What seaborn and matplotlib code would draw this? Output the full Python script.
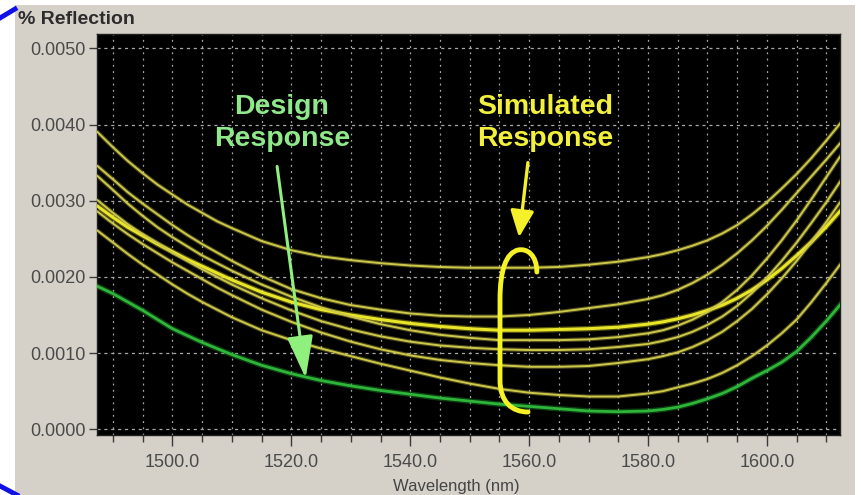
import numpy as np
import pandas as pd
import seaborn as sns
import matplotlib
matplotlib.use("Agg")
import matplotlib.pyplot as plt
from matplotlib.patches import FancyArrowPatch, PathPatch, Rectangle
from matplotlib.path import Path
from matplotlib.lines import Line2D

# ---- data -------------------------------------------------------------
wavelength = [1487, 1490, 1492.5, 1495, 1497.5, 1500, 1502.5, 1505, 1507.5, 1510,
              1515, 1520, 1525, 1530, 1535, 1540, 1545, 1550, 1555, 1560,
              1565, 1570, 1575, 1580, 1582.5, 1585, 1587.5, 1590, 1592.5, 1595,
              1597.5, 1600, 1602.5, 1605, 1607.5, 1610, 1612.5]

design = [0.00189, 0.00178, 0.00167, 0.00156, 0.00144, 0.00132, 0.00123, 0.00114, 0.00106, 0.00098,
          0.00084, 0.00073, 0.00064, 0.00057, 0.00051, 0.00046, 0.00041, 0.00037, 0.00033, 0.00030,
          0.00027, 0.00024, 0.00023, 0.00024, 0.00026, 0.00029, 0.00034, 0.00040, 0.00047, 0.00056,
          0.00067, 0.00077, 0.00088, 0.00102, 0.00121, 0.00142, 0.00165]

sim_a = [0.00393, 0.00370, 0.00352, 0.00336, 0.00321, 0.00308, 0.00295, 0.00284, 0.00273, 0.00264,
         0.00247, 0.00235, 0.00227, 0.00222, 0.00218, 0.00215, 0.00213, 0.00212, 0.00212, 0.00212,
         0.00213, 0.00216, 0.00220, 0.00226, 0.00230, 0.00235, 0.00241, 0.00248, 0.00257, 0.00268,
         0.00282, 0.00298, 0.00316, 0.00335, 0.00356, 0.00379, 0.00403]
sim_b = [0.00348, 0.00328, 0.00311, 0.00296, 0.00282, 0.00268, 0.00255, 0.00243, 0.00232, 0.00221,
         0.00201, 0.00184, 0.00172, 0.00163, 0.00157, 0.00152, 0.00149, 0.00148, 0.00148, 0.00150,
         0.00154, 0.00159, 0.00164, 0.00171, 0.00176, 0.00183, 0.00192, 0.00203, 0.00216, 0.00231,
         0.00248, 0.00267, 0.00288, 0.00310, 0.00332, 0.00354, 0.00377]
sim_c = [0.00295, 0.00278, 0.00265, 0.00254, 0.00243, 0.00233, 0.00223, 0.00214, 0.00205, 0.00196,
         0.00180, 0.00167, 0.00157, 0.00150, 0.00144, 0.00139, 0.00135, 0.00132, 0.00130, 0.00130,
         0.00131, 0.00132, 0.00134, 0.00138, 0.00141, 0.00145, 0.00150, 0.00156, 0.00163, 0.00172,
         0.00183, 0.00196, 0.00211, 0.00228, 0.00246, 0.00266, 0.00288]
sim_d = [0.00335, 0.00314, 0.00296, 0.00280, 0.00265, 0.00252, 0.00240, 0.00228, 0.00218, 0.00208,
         0.00190, 0.00174, 0.00160, 0.00148, 0.00138, 0.00130, 0.00124, 0.00120, 0.00117, 0.00117,
         0.00117, 0.00118, 0.00121, 0.00126, 0.00130, 0.00136, 0.00144, 0.00154, 0.00167, 0.00183,
         0.00202, 0.00224, 0.00248, 0.00274, 0.00302, 0.00331, 0.00360]
sim_e = [0.00303, 0.00284, 0.00269, 0.00256, 0.00244, 0.00232, 0.00221, 0.00210, 0.00200, 0.00190,
         0.00172, 0.00156, 0.00142, 0.00131, 0.00122, 0.00115, 0.00110, 0.00107, 0.00105, 0.00104,
         0.00104, 0.00105, 0.00108, 0.00112, 0.00116, 0.00121, 0.00128, 0.00137, 0.00148, 0.00162,
         0.00179, 0.00199, 0.00221, 0.00245, 0.00271, 0.00298, 0.00327]
sim_f = [0.00288, 0.00270, 0.00256, 0.00243, 0.00231, 0.00219, 0.00208, 0.00197, 0.00186, 0.00176,
         0.00157, 0.00141, 0.00127, 0.00115, 0.00105, 0.00097, 0.00091, 0.00087, 0.00084, 0.00082,
         0.00082, 0.00083, 0.00087, 0.00092, 0.00096, 0.00101, 0.00108, 0.00117, 0.00128, 0.00142,
         0.00158, 0.00177, 0.00198, 0.00221, 0.00246, 0.00272, 0.00300]
sim_g = [0.00263, 0.00245, 0.00230, 0.00216, 0.00203, 0.00190, 0.00178, 0.00167, 0.00157, 0.00147,
         0.00130, 0.00117, 0.00106, 0.00096, 0.00086, 0.00077, 0.00068, 0.00060, 0.00053, 0.00048,
         0.00045, 0.00043, 0.00043, 0.00047, 0.00050, 0.00055, 0.00060, 0.00066, 0.00074, 0.00084,
         0.00096, 0.00110, 0.00126, 0.00144, 0.00167, 0.00192, 0.00218]

x_ticks = [1500.0, 1520.0, 1540.0, 1560.0, 1580.0, 1600.0]
y_ticks = [0.0000, 0.0010, 0.0020, 0.0030, 0.0040, 0.0050]

simulated = {"a": sim_a, "b": sim_b, "c": sim_c, "d": sim_d,
             "e": sim_e, "f": sim_f, "g": sim_g}

# ---- figure -----------------------------------------------------------
W, H = 862, 495
fig = plt.figure(figsize=(W / 100, H / 100), dpi=100)
fig.patch.set_facecolor("white")
fig.patches.append(Rectangle((15 / W, 0), (855 - 15) / W, (H - 5) / H,
                             transform=fig.transFigure, facecolor="#d5d1c9",
                             edgecolor="none", zorder=-10))

ax = fig.add_axes([97 / W, 1 - 435 / H, 743 / W, 401 / H])
ax.set_facecolor("black")

font = ["Liberation Sans", "DejaVu Sans"]

# simulated responses
for key, vals in simulated.items():
    bright = key == "c"
    col = "#e9e62a" if bright else "#cdc84a"
    sns.lineplot(x=wavelength, y=vals, ax=ax, color=col, alpha=0.35,
                 lw=4.0 if bright else 3.0, zorder=2)
    sns.lineplot(x=wavelength, y=vals, ax=ax, color=col,
                 lw=2.2 if bright else 1.4, zorder=3)

# design response
sns.lineplot(x=wavelength, y=design, ax=ax, color="#1e9a2a", alpha=0.4, lw=4, zorder=3)
sns.lineplot(x=wavelength, y=design, ax=ax, color="#2fb63a", lw=2.0, zorder=4)

ax.set_xlim(1487.3, 1612.3)
ax.set_ylim(-0.000075, 0.005188)

ax.set_xticks(x_ticks)
ax.set_xticklabels([f"{v:.1f}" for v in x_ticks])
ax.set_xticks(np.arange(1490, 1611, 5), minor=True)
ax.set_yticks(y_ticks)
ax.set_yticklabels([f"{v:.4f}" for v in y_ticks])

ax.grid(which="both", axis="x", color="#a8a8a8", lw=0.9, ls=(0, (1.5, 3.5)), zorder=1)
ax.grid(which="major", axis="y", color="#a8a8a8", lw=0.9, ls=(0, (2.5, 3)), zorder=1)

ax.tick_params(axis="x", which="major", direction="out", length=8, width=1,
               color="#3a3a3a", labelcolor="#4a4a4a", pad=6)
ax.tick_params(axis="x", which="minor", direction="out", length=5, width=1,
               color="#3a3a3a")
ax.tick_params(axis="y", which="major", direction="out", length=6, width=1,
               color="#3a3a3a", labelcolor="#4a4a4a", pad=2)
for lab in ax.get_xticklabels() + ax.get_yticklabels():
    lab.set_fontfamily(font)
    lab.set_fontsize(13)

for s in ax.spines.values():
    s.set_color("#202020")
    s.set_linewidth(1)
ax.set_xlabel("")
ax.set_ylabel("")

fig.text(18 / W, 1 - 19 / H, "% Reflection", ha="left", va="center",
         fontsize=14, fontweight="bold", color="#2c2c2c", family=font)
fig.text(456 / W, 1 - 486 / H, "Wavelength (nm)", ha="center", va="center",
         fontsize=12, color="#454545", family=font)

# annotations
ax.text(0.249, 0.778, "Design\nResponse", transform=ax.transAxes,
        ha="center", va="center", fontsize=20.5, fontweight="bold",
        color="#8fe88a", family=font, linespacing=1.3, zorder=6)
ax.text(0.603, 0.778, "Simulated\nResponse", transform=ax.transAxes,
        ha="center", va="center", fontsize=20.5, fontweight="bold",
        color="#f2f03c", family=font, linespacing=1.3, zorder=6)

ax.add_patch(FancyArrowPatch((1517.6, 0.00345), (1522.4, 0.00067),
                             arrowstyle="-|>,head_length=1.3,head_width=0.4",
                             mutation_scale=20, color="#8ff07e", lw=2.2,
                             shrinkA=0, shrinkB=0, zorder=6))
ax.add_patch(FancyArrowPatch((1559.8, 0.00350), (1558.3, 0.00252),
                             arrowstyle="-|>,head_length=0.9,head_width=0.4",
                             mutation_scale=18, color="#f5f02a", lw=2.4,
                             shrinkA=0, shrinkB=0, zorder=6))

brace_verts = [(1561.3, 0.002064),
               (1561.3, 0.002287), (1559.65, 0.002379), (1558.13, 0.002353),
               (1556.11, 0.002313), (1555.10, 0.002091), (1555.10, 0.001697),
               (1555.10, 0.000647),
               (1555.10, 0.000358), (1557.12, 0.000227), (1559.82, 0.000227)]
brace_codes = [Path.MOVETO,
               Path.CURVE4, Path.CURVE4, Path.CURVE4,
               Path.CURVE4, Path.CURVE4, Path.CURVE4,
               Path.LINETO,
               Path.CURVE4, Path.CURVE4, Path.CURVE4]
ax.add_patch(PathPatch(Path(brace_verts, brace_codes), facecolor="none",
                       edgecolor="#f5f226", lw=3.5, capstyle="round",
                       joinstyle="round", zorder=6))

# blue outline fragments at the left edge of the panel
fig.add_artist(Line2D([0 / W, 15 / W], [1 - 18 / H, 1 - 9 / H],
                      transform=fig.transFigure, color="#1010e8", lw=3.5))
fig.add_artist(Line2D([0 / W, 17 / W], [1 - 486 / H, 1 - 495 / H],
                      transform=fig.transFigure, color="#1010e8", lw=3.5))

fig.savefig("out.png", dpi=100, facecolor=fig.get_facecolor())
